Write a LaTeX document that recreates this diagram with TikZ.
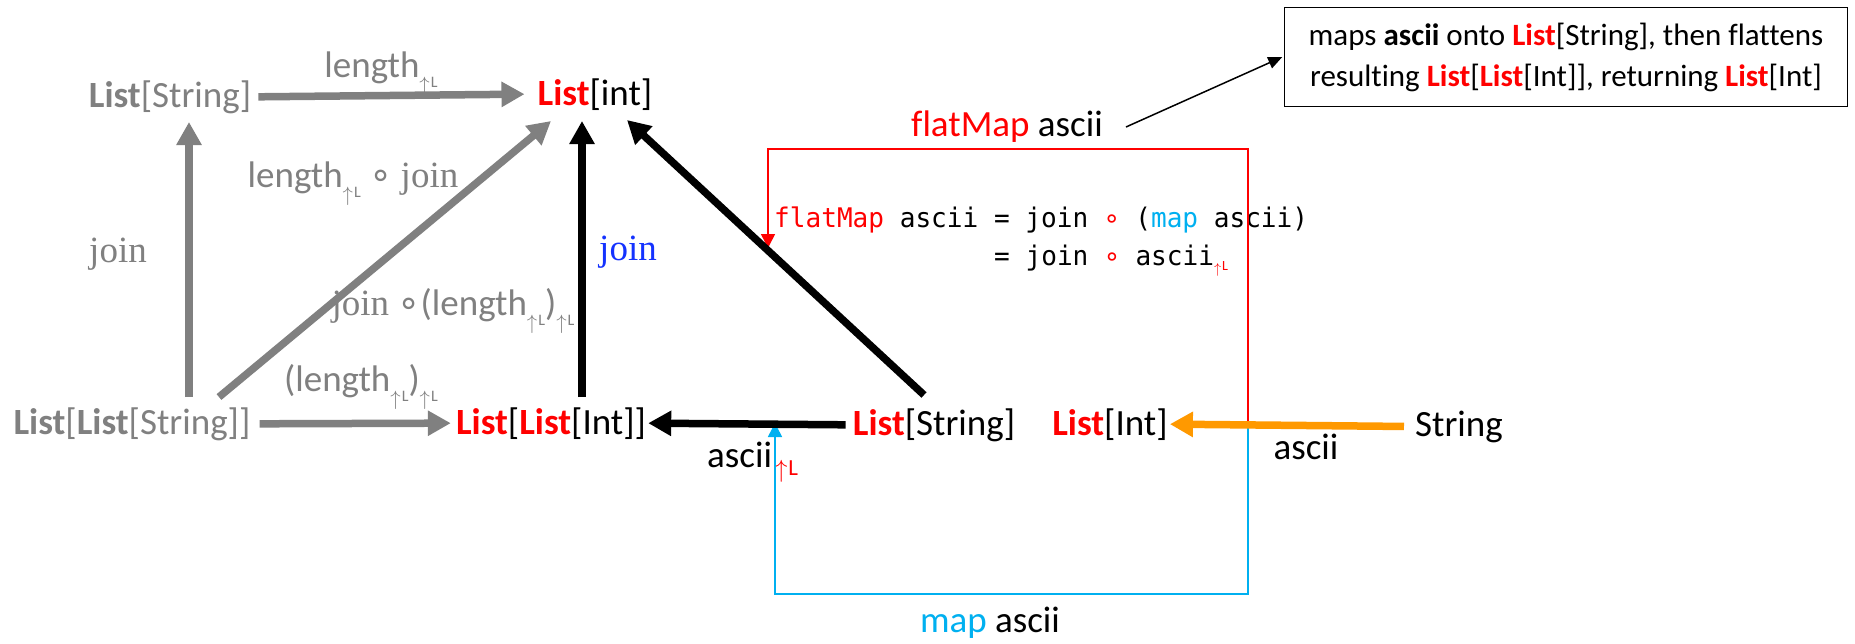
\documentclass[tikz,border=0pt]{standalone}
\usepackage{fontspec}
\setmainfont{Carlito}[Ligatures={NoCommon}]
\newfontfamily\serifj{Liberation Serif}
\newfontfamily\monof{DejaVu Sans Mono}[FakeStretch=0.966]
\newfontfamily\dejavu{DejaVu Sans}
\usetikzlibrary{arrows.meta,calc}
\definecolor{cgray}{RGB}{128,128,128}
\definecolor{cred}{RGB}{255,0,0}
\definecolor{cblue}{RGB}{20,50,255}
\definecolor{ccyan}{RGB}{0,176,240}
\definecolor{corange}{RGB}{255,153,0}
% small "up L" index: #1 arrow size, #2 arrow drop, #3 L size, #4 L drop
\newcommand\upidx[4]{\raisebox{-#2}{\fontsize{#1}{#1}\selectfont$\uparrow$}\hspace{1pt}\raisebox{-#4}{\rmfamily\fontsize{#3}{#3}\selectfont L}}
\newcommand\upL{\upidx{20pt}{14pt}{16pt}{10pt}}
\newcommand\Lst{\textbf{\color{cred}List}}
\newcommand\ring{{\dejavu ∘}}
\newcommand\mc{\makebox[0.5815em]{\color{cred}\dejavu ∘}}
\begin{document}
\begin{tikzpicture}[x=1pt,y=-1pt,
  lbl/.style={inner sep=0pt, anchor=base, font=\fontsize{37}{44}\selectfont},
  code/.style={inner sep=0pt, anchor=base west, font=\monof\fontsize{27}{37}\selectfont},
  fat/.style={line width=7.5pt, -{Triangle[length=23pt,width=24pt]}},
  garr/.style={fat, cgray},
  barr/.style={fat, black},
  oarr/.style={fat, corange},
  redarr/.style={cred, line width=1.5pt, -{Triangle[length=14pt,width=14pt]}},
  bluearr/.style={ccyan, line width=1.5pt, -{Triangle[length=14pt,width=14pt]}},
  ptr/.style={black, line width=1.5pt, -{Triangle[length=14pt,width=12pt]}}
]
\path[fill=white] (0,0) rectangle (1855,643);
\useasboundingbox (0,0) rectangle (1855,643);

% main objects
\node[lbl, text=cgray] (LS) at (170,107) {\textbf{List}[String]};
\node[lbl] (LI) at (595,105) {\Lst[int]};
\node[lbl, text=cgray] (LLS) at (132,434) {\textbf{List}[\textbf{List}[String]]};
\node[lbl] (LLI) at (551,434) {\Lst[\Lst[Int]]};
\node[lbl] (LS2) at (934,435) {\Lst[String]};
\node[lbl] (LI2) at (1110,435) {\Lst[Int]};
\node[lbl] (STR) at (1459,436) {String};

% labels
\node[lbl, text=cgray] (l1) at (381,77) {length\upL};
\node[lbl, text=cgray] (l2) at (353,187) {length\upL\ \ring\ {\serifj join}};
\node[lbl, text=cgray] (l3) at (118,262) {\serifj join};
\node[lbl, text=cblue] (l4) at (628,260) {\serifj join};
\node[lbl, text=cgray] (l5) at (453,315) {{\serifj join} \ring(length\upL)\upL};
\node[lbl, text=cgray] (l6) at (361,391) {(length\upL)\upL};
\node[lbl, anchor=base west] (l7) at (707,467) {ascii\hspace{3pt}{\color{cred}\upidx{27pt}{10pt}{23pt}{8pt}}};
\node[lbl] (l8) at (1306,459) {ascii};
\node[lbl] (FM) at (1007,136) {{\color{cred}flatMap} ascii};
\node[lbl] (MA) at (990,632) {{\color{ccyan}map} ascii};

% code
\node[code] (c1) at (774,227) {{\color{cred}flatMap} ascii = join \mc{} ({\color{ccyan}map} ascii)};
\node[code] (c2) at (994,265) {= join \mc{} ascii{\color{cred}\upidx{14pt}{8.5pt}{14pt}{5pt}}};

% note box
\node[draw, line width=1.5pt, minimum width=563pt, minimum height=99pt, align=center, inner sep=0pt,
  font=\fontsize{31}{41}\selectfont] (note) at (1566,57)
  {maps \textbf{ascii} onto \Lst[String], then flattens\\resulting \Lst[\Lst[Int]], returning \Lst[Int]};

% red / blue routes
\coordinate (J) at (1248,425);
\coordinate (RT) at (768,248);
\coordinate (BT) at (775,423);
\draw[redarr] (J) -- ++(0,-276) -| (RT);
\draw[bluearr] (J) -- ++(0,169) -| (BT);

% arrows
\draw[garr] ([xshift=7pt]LS.east) -- ([xshift=-13pt]LI.west);
\draw[garr] ([shift={(57,-37)}]LLS.base) -- ([shift={(19,15)}]LS.base);
\draw[garr] ([shift={(87,-37)}]LLS.base) -- ([shift={(-44,16)}]LI.base);
\draw[garr] ([xshift=9pt]LLS.east) -- ([xshift=-5pt]LLI.west);
\draw[barr] ([shift={(31,-37)}]LLI.base) -- ([shift={(-13,16)}]LI.base);
\draw[barr] ([shift={(-10,-40)}]LS2.base) -- ([shift={(32,15)}]LI.base);
\draw[barr] ([xshift=-7pt]LS2.west) -- ([xshift=2pt]LLI.east);
\draw[oarr] ([xshift=-11pt]STR.west) -- ([xshift=2pt]LI2.east);
\draw[ptr] ([shift={(23,-9)}]FM.base east) -- ([xshift=-1.5pt]note.west);
\end{tikzpicture}
\end{document}
